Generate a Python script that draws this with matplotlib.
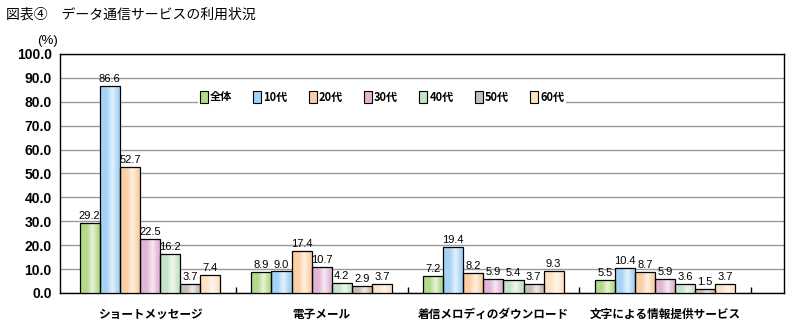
import numpy as np
import matplotlib
matplotlib.use('Agg')
from matplotlib import pyplot as plt
from matplotlib.colors import to_rgb
from matplotlib.patches import Patch

plt.rcParams['font.family'] = ['Noto Sans CJK JP', 'DejaVu Sans']

# データ
categories = ['ショートメッセージ', '電子メール', '着信メロディのダウンロード', '文字による情報提供サービス']
series = ['全体', '10代', '20代', '30代', '40代', '50代', '60代']
v_all = [29.2, 8.9, 7.2, 5.5]
v_10 = [86.6, 9.0, 19.4, 10.4]
v_20 = [52.7, 17.4, 8.2, 8.7]
v_30 = [22.5, 10.7, 5.9, 5.9]
v_40 = [16.2, 4.2, 5.4, 3.6]
v_50 = [3.7, 2.9, 3.7, 1.5]
v_60 = [7.4, 3.7, 9.3, 3.7]
values = [v_all, v_10, v_20, v_30, v_40, v_50, v_60]
colors = ['#b3d98a', '#a6d3f5', '#fbcfa6', '#e2b6d6', '#c6e4c9', '#c9bdb6', '#fde3c4']

fig = plt.figure(figsize=(7.95, 3.23), dpi=100)
ax = fig.add_axes([0.0755, 0.093, 0.9105, 0.740])

x = np.arange(len(categories))
w = 0.117


def grad_img(c):
    # 横方向グラデーション(中央やや右がハイライト)
    t = np.linspace(0, 1, 40)
    h = np.clip(1 - np.abs(t - 0.6) / 0.28, 0, 1) * 0.7
    base = np.array(to_rgb(c))
    img = base[None, :] * (1 - h[:, None]) + h[:, None]
    return img[None, :, :]


for i, (vals, c) in enumerate(zip(values, colors)):
    pos = x + (i - 3) * w
    bars = ax.bar(pos, vals, w, color=c, edgecolor='black', linewidth=0.9, zorder=3)
    for b, v in zip(bars, vals):
        im = ax.imshow(grad_img(c), extent=[b.get_x(), b.get_x() + w, 0, v],
                       aspect='auto', zorder=3.5, interpolation='bilinear')
        im.set_clip_path(b)
        b.set_facecolor('none')
        b.set_zorder(4)
        ax.text(b.get_x() + w / 2, v + 0.8, f'{v:.1f}', ha='center', va='bottom',
                fontsize=8, family=['Liberation Sans'], zorder=5)

ax.set_xlim(-0.524, 3.692)
ax.set_ylim(0, 100)
ax.set_yticks(np.arange(0, 101, 10))
ax.set_yticklabels([f'{t:.1f}' for t in np.arange(0, 101, 10)],
                   fontsize=10, fontweight='bold', family=['Liberation Sans'])
ax.tick_params(axis='y', length=0, pad=6)
ax.yaxis.grid(True, color='#999999', linewidth=1.0, zorder=0)
ax.set_axisbelow(True)

ax.set_xticks(x + 0.5)
ax.set_xticklabels([])
ax.tick_params(axis='x', direction='in', length=4, width=1)
for i, name in enumerate(categories):
    ax.text(x[i], -6.3, name, ha='center', va='top', fontsize=8.4, fontweight='bold')

for s in ax.spines.values():
    s.set_linewidth(1.0)
    s.set_color('black')

handles = [Patch(facecolor=c, edgecolor='black', linewidth=0.8) for c in colors]
leg = ax.legend(handles, series, ncol=7, loc='center', bbox_to_anchor=(0.445, 0.82),
                frameon=True, framealpha=1, edgecolor='none', facecolor='white',
                fontsize=8, handlelength=0.7, handleheight=1.3, handletextpad=0.2,
                columnspacing=1.9, borderpad=0.2, fancybox=False)
for t in leg.get_texts():
    t.set_fontweight('bold')
leg.set_zorder(6)

fig.text(0.008, 0.955, '図表④　データ通信サービスの利用状況', fontsize=10, va='center')
fig.text(0.047, 0.872, '(%)', fontsize=9.5, va='center', family=['Liberation Sans'])

plt.savefig('out.png', dpi=100)
